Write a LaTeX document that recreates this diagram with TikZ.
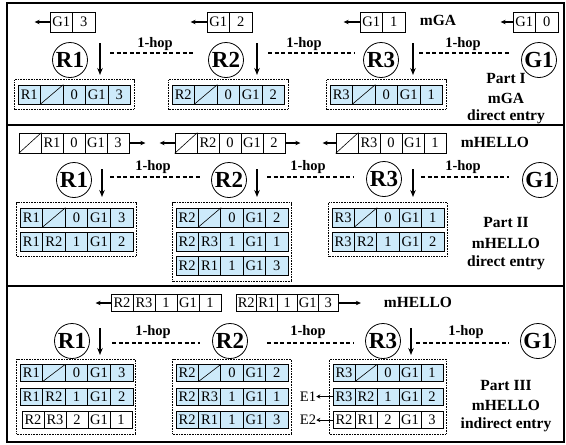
\documentclass[tikz,border=0pt]{standalone}
\usepackage{fontspec}
\setmainfont{Liberation Serif}
\newfontfamily\serf{Liberation Serif}
\usetikzlibrary{arrows.meta,fit}
\definecolor{cellblue}{RGB}{205,234,250}
\newcommand\tabfont{\serf\fontsize{14.5}{14.5}\selectfont}
\newcommand\cellrow[7]{%
  \foreach \tx/\dg [count=\i] in {#7} {%
    \node[cellbox, minimum width=#4pt, minimum height=#5pt, fill=#6] (#1-\i) at ({#2+(\i-0.5)*#4},#3) {\tx};
    \ifnum\dg=1 \draw[line width=0.6pt] (#1-\i.south west) -- (#1-\i.north east);\fi
  }%
}
\begin{document}
\begin{tikzpicture}[x=1pt,y=-1pt,
  cellbox/.style={draw, line width=0.7pt, inner sep=0pt, font=\tabfont},
  router/.style={circle, draw, line width=0.8pt, minimum size=35pt, inner sep=0pt, font=\serf\fontsize{23}{23}\selectfont\bfseries},
  hop/.style={line width=2pt, dash pattern=on 4pt off 2.6pt},
  hoplabel/.style={font=\serf\fontsize{14.5}{14.5}\selectfont\bfseries, inner sep=0pt},
  darr/.style={line width=1.2pt, -{Stealth[length=7pt,width=5.5pt]}},
  parr/.style={line width=1.1pt, -{Stealth[length=5pt,width=4.5pt]}},
  earr/.style={line width=0.7pt, -{Stealth[length=4pt,width=4pt]}},
  dotbox/.style={draw, dash pattern=on 0.8pt off 0.8pt, line width=0.7pt, inner xsep=3pt, inner ysep=5pt},
  lbl/.style={font=\serf\fontsize{15.5}{15.5}\selectfont\bfseries, inner sep=0pt},
  etext/.style={font=\tabfont, inner sep=0pt},
]
\useasboundingbox (0,0) rectangle (566,445);
% frame
\draw[line width=1.4pt] (7,3) rectangle (564,442);
\draw[line width=1.8pt] (7,125) -- (564,125);
\draw[line width=1.8pt] (7,286) -- (564,286);

% ================= Part I =================
\cellrow{pa1}{50}{22}{22.5}{20}{white}{G1/0,3/0}
\cellrow{pa2}{207}{22}{22.5}{20}{white}{G1/0,2/0}
\cellrow{pa3}{360}{22}{22.5}{20}{white}{G1/0,1/0}
\cellrow{pa4}{513}{22}{22.5}{20}{white}{G1/0,0/0}
\draw[parr] (pa1-1.west) -- ++(-15,0);
\draw[parr] (pa2-1.west) -- ++(-16,0);
\draw[parr] (pa3-1.west) -- ++(-16,0);
\draw[parr] (pa4-1.west) -- ++(-12,0);
\node[lbl] (mga) at (438,20) {mGA};

\node[router] (aR1) at (70,60) {R1};
\node[router] (aR2) at (226,60) {R2};
\node[router] (aR3) at (381,60) {R3};
\node[router] (aG1) at (539,60) {G1};
\draw[darr] (100,43) -- (100,75);
\draw[darr] (257,43) -- (257,75);
\draw[darr] (413,43) -- (413,75);
\draw[hop] (110,53) -- (195,53);
\draw[hop] (268,53) -- (354,53);
\draw[hop] (419,53) -- (509,53);
\node[hoplabel] (ah1) at (155,44) {1-hop};
\node[hoplabel] (ah2) at (304,44) {1-hop};
\node[hoplabel] (ah3) at (463,44) {1-hop};

\cellrow{ta1}{18}{94.5}{22.5}{19}{cellblue}{R1/0,/1,0/0,G1/0,3/0}
\cellrow{ta2}{172}{94.5}{22.5}{19}{cellblue}{R2/0,/1,0/0,G1/0,2/0}
\cellrow{ta3}{330}{94.5}{22.5}{19}{cellblue}{R3/0,/1,0/0,G1/0,1/0}
\node[dotbox, fit=(ta1-1)(ta1-5)] (ba1) {};
\node[dotbox, fit=(ta2-1)(ta2-5)] (ba2) {};
\node[dotbox, fit=(ta3-1)(ta3-5)] (ba3) {};

\node[lbl] (pI1) at (506,78) {Part I};
\node[lbl] (pI2) at (506,98) {mGA};
\node[lbl] (pI3) at (506,117) {direct entry};

% ================= Part II =================
\cellrow{pb1}{19}{143}{22}{20}{white}{/1,R1/0,0/0,G1/0,3/0}
\cellrow{pb2}{175}{143}{22}{20}{white}{/1,R2/0,0/0,G1/0,2/0}
\cellrow{pb3}{336}{143}{22}{20}{white}{/1,R3/0,0/0,G1/0,1/0}
\draw[parr] (pb1-5.east) -- ++(16,0);
\draw[parr] (pb2-1.west) -- ++(-15,0);
\draw[parr] (pb2-5.east) -- ++(15,0);
\draw[parr] (pb3-1.west) -- ++(-13,0);
\node[lbl] (mh2) at (495,142) {mHELLO};

\node[router] (bR1) at (74,180) {R1};
\node[router] (bR2) at (229,180) {R2};
\node[router] (bR3) at (384,179) {R3};
\node[router] (bG1) at (540,180) {G1};
\draw[darr] (102,169) -- (102,197);
\draw[darr] (257,169) -- (257,197);
\draw[darr] (413,169) -- (413,197);
\draw[hop] (110,177) -- (200,177);
\draw[hop] (267,177) -- (354,177);
\draw[hop] (421,177) -- (509,177);
\node[hoplabel] (bh1) at (153,167) {1-hop};
\node[hoplabel] (bh2) at (308,167) {1-hop};
\node[hoplabel] (bh3) at (463,167) {1-hop};

\cellrow{tb11}{20}{217.5}{22.6}{19}{cellblue}{R1/0,/1,0/0,G1/0,3/0}
\cellrow{tb12}{20}{241.5}{22.6}{19}{cellblue}{R1/0,R2/0,1/0,G1/0,2/0}
\cellrow{tb21}{176}{217.5}{22.4}{19}{cellblue}{R2/0,/1,0/0,G1/0,2/0}
\cellrow{tb22}{176}{241.5}{22.4}{19}{cellblue}{R2/0,R3/0,1/0,G1/0,1/0}
\cellrow{tb23}{176}{266}{22.4}{19}{cellblue}{R2/0,R1/0,1/0,G1/0,3/0}
\cellrow{tb31}{332}{217.5}{22.4}{19}{cellblue}{R3/0,/1,0/0,G1/0,1/0}
\cellrow{tb32}{332}{241.5}{22.4}{19}{cellblue}{R3/0,R2/0,1/0,G1/0,2/0}
\node[dotbox, fit=(tb11-1)(tb12-5)] (bb1) {};
\node[dotbox, fit=(tb21-1)(tb23-5)] (bb2) {};
\node[dotbox, fit=(tb31-1)(tb32-5)] (bb3) {};

\node[lbl] (pII1) at (506,222) {Part II};
\node[lbl] (pII2) at (506,243) {mHELLO};
\node[lbl] (pII3) at (506,263) {direct entry};

% ================= Part III =================
\cellrow{pc1}{111}{303}{22}{17}{white}{R2/0,R3/0,1/0,G1/0,1/0}
\cellrow{pc2}{236}{303}{20.5}{17}{white}{R2/0,R1/0,1/0,G1/0,3/0}
\draw[parr] (pc1-1.west) -- ++(-15,0);
\draw[parr] (pc2-5.east) -- ++(22,0);
\node[lbl] (mh3) at (418,302) {mHELLO};

\node[router] (cR1) at (72,341) {R1};
\node[router] (cR2) at (230,341) {R2};
\node[router] (cR3) at (383,341) {R3};
\node[router] (cG1) at (538,341) {G1};
\draw[darr] (100,328) -- (100,355);
\draw[darr] (411,328) -- (411,355);
\draw[hop] (112,343) -- (200,343);
\draw[hop] (267,343) -- (353,343);
\draw[hop] (416,343) -- (509,343);
\node[hoplabel] (ch1) at (153,332) {1-hop};
\node[hoplabel] (ch2) at (308,332) {1-hop};
\node[hoplabel] (ch3) at (466,332) {1-hop};

\cellrow{tc11}{20}{373}{22.6}{17}{cellblue}{R1/0,/1,0/0,G1/0,3/0}
\cellrow{tc12}{20}{396.5}{22.6}{17}{cellblue}{R1/0,R2/0,1/0,G1/0,2/0}
\cellrow{tc13}{22}{420}{22}{17}{white}{R2/0,R3/0,2/0,G1/0,1/0}
\cellrow{tc21}{176}{373}{22.4}{17}{cellblue}{R2/0,/1,0/0,G1/0,2/0}
\cellrow{tc22}{176}{396.5}{22.4}{17}{cellblue}{R2/0,R3/0,1/0,G1/0,1/0}
\cellrow{tc23}{176}{420}{22.4}{17}{cellblue}{R2/0,R1/0,1/0,G1/0,3/0}
\cellrow{tc31}{333}{373}{22}{17}{cellblue}{R3/0,/1,0/0,G1/0,1/0}
\cellrow{tc32}{333}{396.5}{22}{17}{cellblue}{R3/0,R2/0,1/0,G1/0,2/0}
\cellrow{tc33}{333}{420}{22}{17}{white}{R2/0,R1/0,2/0,G1/0,3/0}
\node[dotbox, fit=(tc11-1)(tc13-5)] (cb1) {};
\node[dotbox, fit=(tc21-1)(tc23-5)] (cb2) {};
\node[dotbox, fit=(tc31-1)(tc33-5)] (cb3) {};
\node[etext] (e1) at (308,396.5) {E1};
\node[etext] (e2) at (308,420) {E2};
\draw[earr] (tc32-1.west) -- (e1.east);
\draw[earr] (tc33-1.west) -- (e2.east);

\node[lbl] (pIII1) at (506,385) {Part III};
\node[lbl] (pIII2) at (506,405) {mHELLO};
\node[lbl] (pIII3) at (506,425) {indirect entry};
\end{tikzpicture}
\end{document}
